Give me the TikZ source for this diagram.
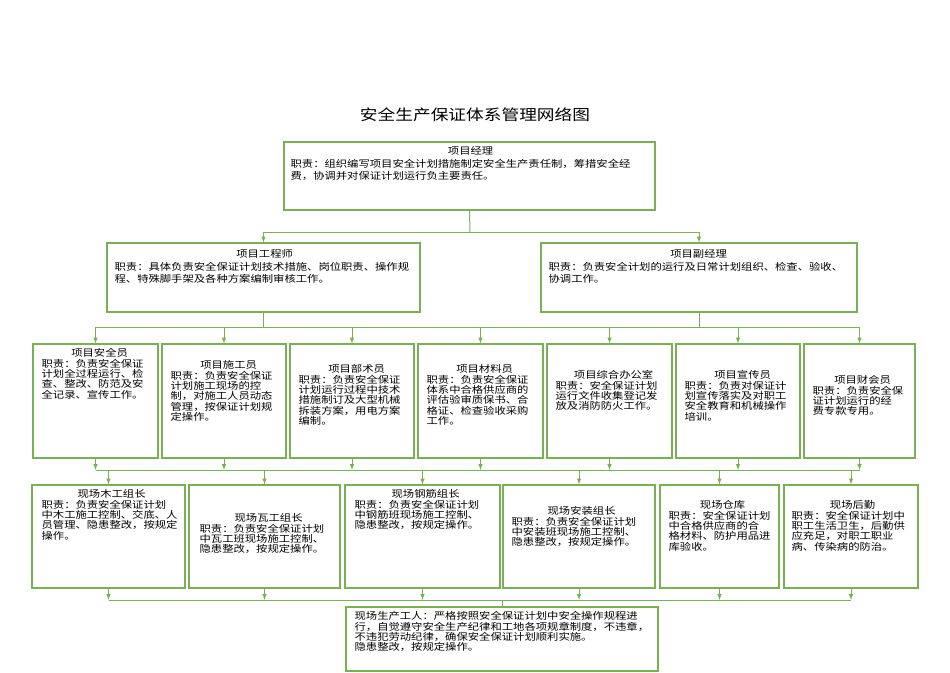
\documentclass[tikz,border=0pt]{standalone}
\usepackage{fontspec}
\newfontfamily\cjk[FakeStretch=1.18]{Noto Sans CJK SC}
\definecolor{boxgreen}{RGB}{122,176,84}
\tikzstyle{box}=[rectangle, draw=boxgreen, line width=1.2pt, inner sep=0pt]
\tikzstyle{txt}=[anchor=north west, inner sep=0pt, font=\cjk\fontsize{9.6}{10.4}\selectfont, align=left]
\tikzstyle{link}=[-, draw=boxgreen, line width=1pt]
\tikzstyle{arr}=[-latex, draw=boxgreen, line width=1pt]

\begin{document}
\begin{tikzpicture}[x=1pt,y=-1pt]
\useasboundingbox (0,0) rectangle (950,672);

%The title
\node[font=\cjk\fontsize{15}{16}\selectfont] (title) at (475,115) {安全生产保证体系管理网络图};

%The top level
\node[box, minimum width=371, minimum height=68] (mgr) at (469.5,176) {};
\node[txt, text width=360, font=\cjk\fontsize{9.6}{12.5}\selectfont] (mgr-t) at ([xshift=7,yshift=-5]mgr.north west)
  {{\centering 项目经理\par}职责：组织编写项目安全计划措施制定安全生产责任制，筹措安全经\\费，协调并对保证计划运行负主要责任。};

%The second level
\node[box, minimum width=313, minimum height=69] (eng) at (263.5,277.5) {};
\node[txt, text width=300, font=\cjk\fontsize{9.6}{12.5}\selectfont] (eng-t) at ([xshift=8,yshift=-7]eng.north west)
  {{\centering 项目工程师\par}职责：具体负责安全保证计划技术措施、岗位职责、操作规\\程、特殊脚手架及各种方案编制审核工作。};
\node[box, minimum width=316, minimum height=69] (dep) at (699,277.5) {};
\node[txt, text width=300, font=\cjk\fontsize{9.6}{12.5}\selectfont] (dep-t) at ([xshift=8,yshift=-7]dep.north west)
  {{\centering 项目副经理\par}职责：负责安全计划的运行及日常计划组织、检查、验收、\\协调工作。};

%The third level
\node[box, minimum width=125, minimum height=114] (a1) at (95.5,401) {};
\node[box, minimum width=124, minimum height=114] (a2) at (224,401) {};
\node[box, minimum width=124, minimum height=114] (a3) at (352,401) {};
\node[box, minimum width=125, minimum height=114] (a4) at (480.5,401) {};
\node[box, minimum width=125, minimum height=114] (a5) at (609.5,401) {};
\node[box, minimum width=124, minimum height=114] (a6) at (738,401) {};
\node[box, minimum width=111, minimum height=114] (a7) at (859.5,401) {};
\node[txt, text width=116] (a1-t) at ([xshift=9,yshift=-5]a1.north west)
  {{\centering 项目安全员\par}职责：负责安全保证\\计划全过程运行、检\\查、整改、防范及安\\全记录、宣传工作。};
\node[txt, text width=116] (a2-t) at ([xshift=9,yshift=-17]a2.north west)
  {{\centering 项目施工员\par}职责：负责安全保证\\计划施工现场的控\\制，对施工人员动态\\管理，按保证计划规\\定操作。};
\node[txt, text width=116] (a3-t) at ([xshift=9,yshift=-21]a3.north west)
  {{\centering 项目部术员\par}职责：负责安全保证\\计划运行过程中技术\\措施制订及大型机械\\拆装方案，用电方案\\编制。};
\node[txt, text width=116] (a4-t) at ([xshift=9,yshift=-21]a4.north west)
  {{\centering 项目材料员\par}职责：负责安全保证\\体系中合格供应商的\\评估验审质保书、合\\格证、检查验收采购\\工作。};
\node[txt, text width=116] (a5-t) at ([xshift=9,yshift=-27]a5.north west)
  {{\centering 项目综合办公室\par}职责：安全保证计划\\运行文件收集登记发\\放及消防防火工作。};
\node[txt, text width=116] (a6-t) at ([xshift=9,yshift=-27]a6.north west)
  {{\centering 项目宣传员\par}职责：负责对保证计\\划宣传落实及对职工\\安全教育和机械操作\\培训。};
\node[txt, text width=100] (a7-t) at ([xshift=9,yshift=-32]a7.north west)
  {{\centering 项目财会员\par}职责：负责安全保\\证计划运行的经\\费专款专用。};

%The fourth level
\node[box, minimum width=153, minimum height=103] (b1) at (108.5,536.5) {};
\node[box, minimum width=151, minimum height=103] (b2) at (264.5,536.5) {};
\node[box, minimum width=155, minimum height=103] (b3) at (422.5,536.5) {};
\node[box, minimum width=152, minimum height=103] (b4) at (579,536.5) {};
\node[box, minimum width=119, minimum height=103] (b5) at (719.5,536.5) {};
\node[box, minimum width=134, minimum height=103] (b6) at (851,536.5) {};
\node[txt, text width=140] (b1-t) at ([xshift=10,yshift=-5]b1.north west)
  {{\centering 现场木工组长\par}职责：负责安全保证计划\\中木工施工控制、交底、人\\员管理、隐患整改，按规定\\操作。};
\node[txt, text width=138] (b2-t) at ([xshift=11,yshift=-29]b2.north west)
  {{\centering 现场瓦工组长\par}职责：负责安全保证计划\\中瓦工班现场施工控制、\\隐患整改，按规定操作。};
\node[txt, text width=142] (b3-t) at ([xshift=10,yshift=-5]b3.north west)
  {{\centering 现场钢筋组长\par}职责：负责安全保证计划\\中钢筋班现场施工控制、\\隐患整改，按规定操作。};
\node[txt, text width=140] (b4-t) at ([xshift=9,yshift=-22]b4.north west)
  {{\centering 现场安装组长\par}职责：负责安全保证计划\\中安装班现场施工控制、\\隐患整改，按规定操作。};
\node[txt, text width=108] (b5-t) at ([xshift=9,yshift=-16]b5.north west)
  {{\centering 现场仓库\par}职责：安全保证计划\\中合格供应商的合\\格材料、防护用品进\\库验收。};
\node[txt, text width=122] (b6-t) at ([xshift=8,yshift=-16]b6.north west)
  {{\centering 现场后勤\par}职责：安全保证计划中\\职工生活卫生，后勤供\\应充足，对职工职业\\病、传染病的防治。};

%The workers
\node[box, minimum width=312, minimum height=64] (wrk) at (502,639) {};
\node[txt, text width=300] (wrk-t) at ([xshift=9,yshift=-5]wrk.north west)
  {现场生产工人：严格按照安全保证计划中安全操作规程进\\行，自觉遵守安全生产纪律和工地各项规章制度，不违章，\\不违犯劳动纪律，确保安全保证计划顺利实施。\\隐患整改，按规定操作。};

%The connectors
\coordinate (bus0) at (470,232);
\coordinate (bus1) at (0,327);
\coordinate (bus2) at (0,470);
\coordinate (bus3) at (0,600);
\draw[link] (mgr.south) -- (bus0);
\draw[link] (eng.north|-bus0) -- (dep.north|-bus0);
\draw[arr] (eng.north|-bus0) -- (eng.north);
\draw[arr] (dep.north|-bus0) -- (dep.north);
\draw[link] (eng.south) -- (eng.south|-bus1);
\draw[link] (dep.south) -- (dep.south|-bus1);
\draw[link] (a1.north|-bus1) -- (a7.north|-bus1);
\draw[link] (a1.south|-bus2) -- (a7.south|-bus2);
\foreach \i in {1,...,7} {
  \draw[arr] (a\i.north|-bus1) -- (a\i.north);
  \draw[arr] (a\i.south) -- (a\i.south|-bus2);
}
\draw[link] (b1.south|-bus3) -- (b6.south|-bus3);
\foreach \i in {1,...,6} {
  \draw[arr] (b\i.north|-bus2) -- (b\i.north);
  \draw[arr] (b\i.south) -- (b\i.south|-bus3);
}
\draw[link] (wrk.north|-bus3) -- (wrk.north);
\end{tikzpicture}
\end{document}
